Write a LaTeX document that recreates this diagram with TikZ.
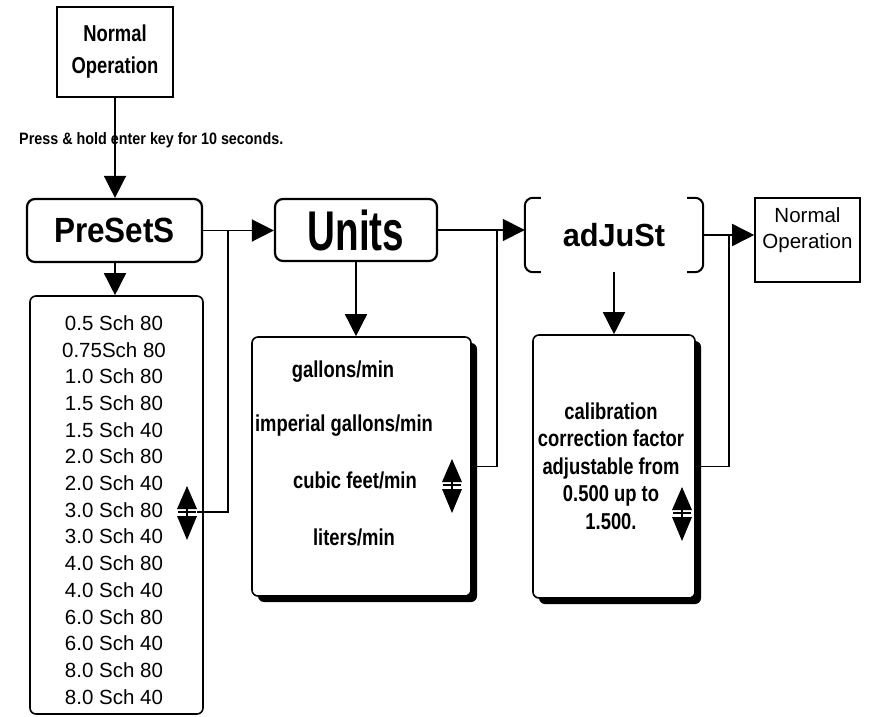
\documentclass[tikz,border=0pt]{standalone}
\usepackage{fontspec}
\setmainfont{Liberation Sans}
\newfontfamily\stA[FakeStretch=0.80]{Liberation Sans}
\newfontfamily\stB[FakeStretch=0.87]{Liberation Sans}
\newfontfamily\stC[FakeStretch=0.90]{Liberation Sans}
\newfontfamily\stD[FakeStretch=0.69]{Liberation Sans}
\newfontfamily\stE[FakeStretch=0.96]{Liberation Sans}
\newcommand\fs[2]{\fontsize{#1bp}{#2bp}\selectfont}
\usetikzlibrary{arrows.meta,calc,shadows}
\newcommand\UpDown[2]{%
  \coordinate (#1) at (#2);
  \coordinate (#1e) at ($(#1)+(10,0)$);
  \fill ($(#1)+(0,-26)$) -- ($(#1)+(10,-3)$) -- ($(#1)+(-10,-3)$) -- cycle;
  \fill ($(#1)+(0,28)$) -- ($(#1)+(10,4)$) -- ($(#1)+(-10,4)$) -- cycle;
  \draw[line width=1.2bp] ($(#1)+(0,-3)$) -- ($(#1)+(0,4)$);
  \draw[line width=1.2bp] ($(#1)+(-9,0)$) -- ($(#1)+(9,0)$);
}
\begin{document}
\begin{tikzpicture}[x=1bp,y=-1bp,
  nobox/.style={draw, line width=1.6bp, inner sep=0pt, fill=white},
  hbox/.style={draw, line width=2.2bp, rounded corners=8bp, inner sep=0pt, fill=white},
  lbox/.style={draw, line width=1.6bp, rounded corners=6bp, inner sep=0pt, fill=white},
  shbox/.style={draw, line width=1.6bp, rounded corners=6bp, inner sep=0pt, fill=white,
     drop shadow={shadow xshift=6bp, shadow yshift=-6bp, fill=black, opacity=1}},
  conn/.style={line width=1.5bp},
  arr/.style={conn, -{Triangle[length=22bp,width=22bp]}},
  item/.style={font={\fs{20.5}{24}}, inner sep=0pt},
  uitem/.style={font={\stA\bfseries\fs{23}{27}}, inner sep=0pt, anchor=base}
]
\useasboundingbox (0,0) rectangle (873,717);

% top normal operation
\node[nobox, minimum width=116bp, minimum height=90bp, align=center,
      font={\stA\bfseries\fs{23}{32}}] (NO1) at (115,52) {Normal\\Operation};

% headings
\node[hbox, minimum width=175bp, minimum height=63bp,
      font={\stC\bfseries\fs{35}{40}}] (pre) at (114.5,230.5) {PreSetS};
\node[hbox, minimum width=162bp, minimum height=62bp,
      font={\stD\bfseries\fs{56}{60}}] (units) at (356,230) {Units};
\node[inner sep=0pt, minimum width=178bp, minimum height=74bp,
      font={\stE\bfseries\fs{32}{36}}] (adj) at (614,235) {adJuSt};
\draw[line width=2bp, rounded corners=8bp]
  ($(adj.north west)+(16,0)$) -- (adj.north west) -- (adj.south west) -- ($(adj.south west)+(16,0)$);
\draw[line width=2bp, rounded corners=8bp]
  ($(adj.north east)+(-16,0)$) -- (adj.north east) -- (adj.south east) -- ($(adj.south east)+(-16,0)$);

% right normal operation
\node[nobox, minimum width=105bp, minimum height=84bp] (NO2) at (807.5,240) {};
\node[align=center, inner sep=0pt, font={\fs{20.5}{26}}] (NO2t) at (807.5,230) {Normal\\Operation};

% list boxes
\node[lbox, minimum width=173bp, minimum height=418bp] (plist) at (116.5,505) {};
\foreach \t [count=\i] in {0.5 Sch 80, 0.75Sch 80, 1.0 Sch 80, 1.5 Sch 80, 1.5 Sch 40,
    2.0 Sch 80, 2.0 Sch 40, 3.0 Sch 80, 3.0 Sch 40, 4.0 Sch 80, 4.0 Sch 40,
    6.0 Sch 80, 6.0 Sch 40, 8.0 Sch 80, 8.0 Sch 40}
  \node[item] (p\i) at (114,{323+(\i-1)*26.7}) {\t};

\node[shbox, minimum width=219bp, minimum height=259bp] (ulist) at (361.5,466.5) {};
\node[uitem] (u1) at (343,377) {gallons/min};
\node[uitem] (u2) at (344,431) {imperial gallons/min};
\node[uitem] (u3) at (355,488) {cubic feet/min};
\node[uitem] (u4) at (354,545) {liters/min};

\node[shbox, minimum width=162bp, minimum height=263bp] (alist) at (614,466.5) {};
\node[align=center, inner sep=0pt, font={\stA\bfseries\fs{23}{27.5}}] (atext) at (611,466)
  {calibration\\correction factor\\adjustable from\\0.500 up to\\1.500.};

% up/down symbols
\UpDown{ud1}{187,512}
\UpDown{ud2}{452,485}
\UpDown{ud3}{682,513}

% label
\node[anchor=west, inner sep=0pt, font={\stB\bfseries\fs{16.5}{20}}] (lbl) at (19,140)
  {Press \& hold enter key for 10 seconds.};

% junctions
\coordinate (J1) at (228,230.5);
\coordinate (J2) at (497,230);
\coordinate (J3) at (729,235);

% connectors
\draw[arr] (NO1.south) -- (NO1.south |- pre.north);
\draw[arr] (pre.south -| NO1.south) -- (NO1.south |- plist.north);
\draw[arr] (pre.east) -- (pre.east -| units.west);
\draw[conn] (ud1e) -| (J1);
\draw[arr] (units.south) -- (units.south |- ulist.north);
\draw[arr] (units.east) -- (units.east -| adj.west);
\draw[conn] (ulist.east) -| (J2);
\draw[arr] (adj.south) -- (alist.north);
\draw[arr] (adj.east) -- (adj.east -| NO2.west);
\draw[conn] (alist.east) -| (J3);
\end{tikzpicture}
\end{document}
